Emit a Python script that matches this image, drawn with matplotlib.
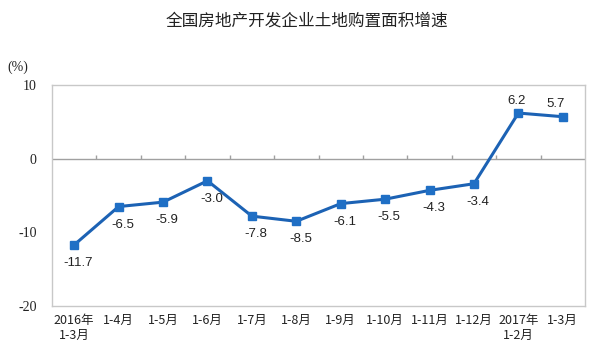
import matplotlib
matplotlib.use("Agg")
import matplotlib.pyplot as plt

plt.rcParams['font.family'] = ['Noto Sans CJK SC', 'DejaVu Sans']

categories = ["2016年\n1-3月", "1-4月", "1-5月", "1-6月", "1-7月", "1-8月",
              "1-9月", "1-10月", "1-11月", "1-12月", "2017年\n1-2月", "1-3月"]
values = [-11.7, -6.5, -5.9, -3.0, -7.8, -8.5, -6.1, -5.5, -4.3, -3.4, 6.2, 5.7]
label_text = ["-11.7", "-6.5", "-5.9", "-3.0", "-7.8", "-8.5", "-6.1", "-5.5",
              "-4.3", "-3.4", "6.2", "5.7"]
yticks = [10, 0, -10, -20]
title = "全国房地产开发企业土地购置面积增速"

fig = plt.figure(figsize=(6.0, 3.61), dpi=100)
ax = fig.add_axes([0.0867, 0.1524, 0.8883, 0.612])

x = list(range(len(categories)))
ax.plot(x, values, color="#1c62b4", lw=2.2, marker="s", ms=5.5,
        mfc="#1f6fc5", mec="#1f6fc5", zorder=3)

ax.set_xlim(-0.5, len(categories) - 0.5)
ax.set_ylim(-20, 10)

for s in ax.spines.values():
    s.set_color("#c8c8c8")
    s.set_linewidth(1.0)

ax.axhline(0, color="#a0a0a0", lw=1.0, zorder=1)
ax.vlines([i + 0.5 for i in range(len(categories) - 1)], 0, 0.45,
          color="#a0a0a0", lw=1.0, zorder=1)

ax.set_yticks(yticks)
ax.set_yticklabels([str(v) for v in yticks], fontfamily="Liberation Serif",
                   fontsize=10, color="#222222")
ax.tick_params(axis="y", length=0, pad=11)

ax.set_xticks(x)
ax.set_xticklabels(categories, fontsize=9, color="#222222", linespacing=1.15,
                   va="top")
ax.tick_params(axis="x", length=0, pad=6)

for xi, v, t in zip(x, values, label_text):
    if v < 0:
        ax.annotate(t, (xi, v), xytext=(3, -13), textcoords="offset points",
                    ha="center", va="center", fontsize=9.5,
                    fontfamily="Liberation Sans", color="#222222")
    else:
        dx = -1 if xi == 10 else -5
        ax.annotate(t, (xi, v), xytext=(dx, 9), textcoords="offset points",
                    ha="center", va="center", fontsize=9.5,
                    fontfamily="Liberation Sans", color="#222222")

fig.text(0.512, 0.942, title, ha="center", va="center", fontsize=12,
         color="#222222")
fig.text(0.029, 0.815, "(%)", ha="center", va="center", fontsize=10,
         fontfamily="Liberation Serif", color="#222222")

fig.savefig("out.png", dpi=100, facecolor="white")
